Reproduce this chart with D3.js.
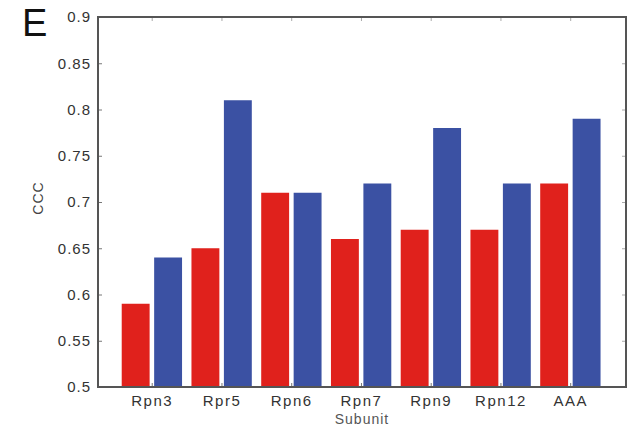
<!DOCTYPE html>
<html>
<head>
<meta charset="utf-8">
<script src="https://cdn.jsdelivr.net/npm/d3@7"></script>
<style>
  body { margin: 0; background: #fff; }
  text { font-family: "Liberation Sans", Arial, sans-serif; fill: #333; }
</style>
</head>
<body>
<svg id="canvas" width="641" height="426"></svg>
<script>
// data
let subunits = ['Rpn3', 'Rpr5', 'Rpn6', 'Rpn7', 'Rpn9', 'Rpn12', 'AAA']
let redValues = [0.59, 0.65, 0.71, 0.66, 0.67, 0.67, 0.72]
let blueValues = [0.64, 0.81, 0.71, 0.72, 0.78, 0.72, 0.79]
let yTicks = [0.5, 0.55, 0.6, 0.65, 0.7, 0.75, 0.8, 0.85, 0.9]

let canvas = d3.select('#canvas')

let pLeft = 98, pRight = 626, pTop = 17, pBottom = 387

let x = d3.scaleLinear().domain([0.23, 7.8]).range([pLeft, pRight])
let y = d3.scaleLinear().domain([0.5, 0.9]).range([pBottom, pTop])

let barW = 0.4
let offs = [-0.23, 0.235]
let colors = ['#e0211c', '#3b51a3']

let series = [redValues, blueValues]
series.forEach((vals, s) => {
    canvas.append('g').selectAll('rect')
        .data(vals)
        .enter()
        .append('rect')
        .attr('x', (d, i) => x(i + 1 + offs[s] - barW / 2))
        .attr('width', (d, i) => x(i + 1 + offs[s] + barW / 2) - x(i + 1 + offs[s] - barW / 2))
        .attr('y', (d) => y(d))
        .attr('height', (d) => y(0.5) - y(d))
        .attr('fill', colors[s])
})

// axes: left with labels, others only ticks (inward)
let yAxis = d3.axisLeft(y).tickValues(yTicks).tickSize(-4).tickPadding(7)
    .tickFormat((d) => d3.format('')(+d.toFixed(2)))
let gy = canvas.append('g').attr('transform', 'translate(' + pLeft + ',0)').call(yAxis)
gy.select('.domain').remove()
gy.selectAll('line').attr('stroke', '#777')
gy.selectAll('text').style('font-size', '15px').style('letter-spacing', '1px').attr('fill', '#555')

let yRight = d3.axisRight(y).tickValues(yTicks).tickSize(-4).tickFormat('')
let gyr = canvas.append('g').attr('transform', 'translate(' + pRight + ',0)').call(yRight)
gyr.select('.domain').remove()
gyr.selectAll('line').attr('stroke', '#aaa')

let xIdx = subunits.map((d, i) => i + 1)
let xAxis = d3.axisBottom(x).tickValues(xIdx).tickSize(-4).tickPadding(8)
    .tickFormat((d) => subunits[d - 1])
let gx = canvas.append('g').attr('transform', 'translate(0,' + pBottom + ')').call(xAxis)
gx.select('.domain').remove()
gx.selectAll('line').attr('stroke', '#777')
gx.selectAll('text').style('font-size', '15px').style('letter-spacing', '1.5px').attr('fill', '#555')

let xTop = d3.axisTop(x).tickValues(xIdx).tickSize(-4).tickFormat('')
let gxt = canvas.append('g').attr('transform', 'translate(0,' + pTop + ')').call(xTop)
gxt.select('.domain').remove()
gxt.selectAll('line').attr('stroke', '#aaa')

// frame
canvas.append('rect')
    .attr('x', pLeft).attr('y', pTop)
    .attr('width', pRight - pLeft).attr('height', pBottom - pTop)
    .attr('fill', 'none').attr('stroke', '#555').attr('stroke-width', 2)

// labels
canvas.append('text')
    .attr('transform', 'translate(43,198) rotate(-90)')
    .attr('text-anchor', 'middle')
    .style('font-size', '14px')
    .style('letter-spacing', '1px')
    .style('fill', '#444')
    .text('CCC')

canvas.append('text')
    .attr('x', (pLeft + pRight) / 2).attr('y', 424)
    .attr('text-anchor', 'middle')
    .style('font-size', '14px')
    .style('letter-spacing', '1px')
    .style('fill', '#555')
    .text('Subunit')

canvas.append('text')
    .attr('x', 22).attr('y', 36)
    .style('font-size', '38px')
    .style('fill', '#111')
    .text('E')
</script>
</body>
</html>
